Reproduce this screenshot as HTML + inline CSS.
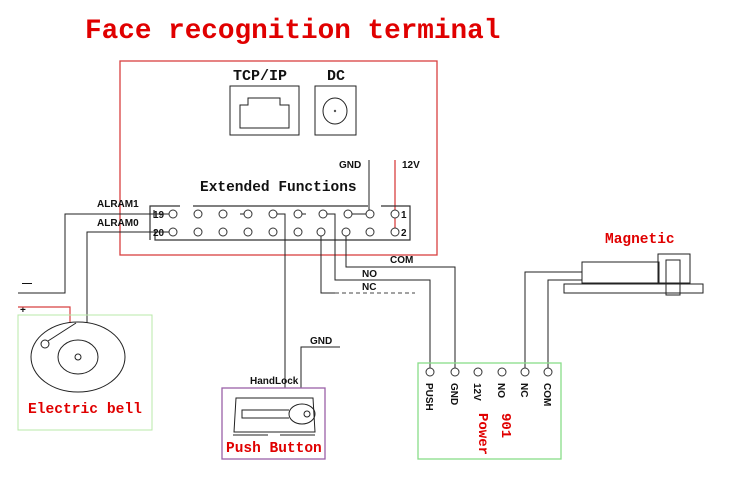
<!DOCTYPE html>
<html><head><meta charset="utf-8"><style>
html,body{margin:0;padding:0;background:#fff;}
svg{display:block;}
.m{font-family:"Liberation Mono",monospace;font-weight:bold;}
.s{font-family:"Liberation Sans",sans-serif;font-weight:bold;font-size:10px;}
</style></head><body>
<svg width="750" height="478" viewBox="0 0 750 478" xmlns="http://www.w3.org/2000/svg">
<rect width="750" height="478" fill="#fff"/>
<text x="85" y="38" class="m" font-size="27.7" fill="#e00000">Face recognition terminal</text>
<rect x="120" y="61" width="317" height="194" fill="none" stroke="#d84040" stroke-width="1.3"/>
<text x="233" y="80" class="m" font-size="15" fill="#111">TCP/IP</text>
<text x="327" y="80" class="m" font-size="15" fill="#111">DC</text>
<rect x="230" y="86" width="69" height="49" fill="none" stroke="#222"/>
<path d="M240 128 V105 H248 V98 H280 V105 H289 V128 Z" fill="none" stroke="#222"/>
<rect x="315" y="86" width="41" height="49" fill="none" stroke="#222"/>
<ellipse cx="335" cy="111" rx="12" ry="13" fill="none" stroke="#222"/>
<circle cx="335" cy="111" r="1.2" fill="#555"/>
<text x="339" y="168" class="s" fill="#111">GND</text>
<text x="402" y="168" class="s" fill="#111">12V</text>
<line x1="369" y1="160" x2="369" y2="214" stroke="#222"/>
<line x1="395" y1="160" x2="395" y2="228" stroke="#d84040" stroke-width="1.3"/>
<text x="200" y="191" class="m" font-size="14.5" fill="#111">Extended Functions</text>
<g stroke="#333" fill="none" stroke-width="1.2">
<path d="M180 206 H150 V240"/><path d="M193 206 H368"/><path d="M381 206 H410 V240 H155 V230"/>
<path d="M154 210 V218"/>
</g>
<g fill="#fff" stroke="#333" stroke-width="1">
<circle cx="173" cy="214" r="4"/><circle cx="198" cy="214" r="4"/><circle cx="223" cy="214" r="4"/><circle cx="248" cy="214" r="4"/><circle cx="273" cy="214" r="4"/><circle cx="298" cy="214" r="4"/><circle cx="323" cy="214" r="4"/><circle cx="348" cy="214" r="4"/><circle cx="370" cy="214" r="4"/><circle cx="395" cy="214" r="4"/>
<circle cx="173" cy="232" r="4"/><circle cx="198" cy="232" r="4"/><circle cx="223" cy="232" r="4"/><circle cx="248" cy="232" r="4"/><circle cx="273" cy="232" r="4"/><circle cx="298" cy="232" r="4"/><circle cx="321" cy="232" r="4"/><circle cx="346" cy="232" r="4"/><circle cx="370" cy="232" r="4"/><circle cx="395" cy="232" r="4"/>
</g>
<text x="153" y="218" class="s" fill="#111">19</text>
<text x="153" y="236" class="s" fill="#111">20</text>
<text x="401" y="218" class="s" fill="#111">1</text>
<text x="401" y="236" class="s" fill="#111">2</text>
<text x="97" y="207" class="s" fill="#111">ALRAM1</text>
<text x="97" y="226" class="s" fill="#111">ALRAM0</text>
<g stroke="#222" fill="none" stroke-width="1">
<path d="M169 214 H65 V293 H18"/>
<path d="M169 232 H87 V323"/>
<path d="M240 214 H244"/><path d="M277 214 H285 V388"/><path d="M302 214 H306"/>
<path d="M327 214 H335 V280 H430 V368"/>
<path d="M346 236 V267 H455 V368"/>
<path d="M321 236 V293 H335"/>
<path d="M352 214 H366"/>
<path d="M301 388 V347 H340"/>
<path d="M525 368 V272 H582"/><path d="M548 368 V280 H582"/>
</g>
<path d="M335 293 H415" stroke="#444" stroke-dasharray="4,3" fill="none"/>
<text x="390" y="263" class="s" fill="#111">COM</text>
<text x="362" y="277" class="s" fill="#111">NO</text>
<text x="362" y="290" class="s" fill="#111">NC</text>
<text x="22" y="286" class="s" fill="#111">—</text>
<text x="20" y="313" class="s" fill="#111">+</text>
<path d="M18 307 H70 V323" stroke="#d84040" fill="none" stroke-width="1.2"/>
<rect x="18" y="315" width="134" height="115" fill="none" stroke="#b8e8a8"/>
<ellipse cx="78" cy="357" rx="47" ry="35" fill="none" stroke="#222"/>
<ellipse cx="78" cy="357" rx="20" ry="17" fill="none" stroke="#222"/>
<circle cx="78" cy="357" r="3" fill="none" stroke="#222"/>
<circle cx="45" cy="344" r="4" fill="none" stroke="#222"/>
<line x1="48" y1="341" x2="76" y2="323" stroke="#222"/>
<text x="28" y="413" class="m" font-size="14.6" fill="#e00000">Electric bell</text>
<text x="310" y="344" class="s" fill="#111">GND</text>
<text x="250" y="384" class="s" fill="#111">HandLock</text>
<rect x="222" y="388" width="103" height="71" fill="none" stroke="#9a60a8" stroke-width="1.3"/>
<path d="M234 432 L236 398 H313 L315 432 Z" fill="none" stroke="#222"/>
<path d="M233 435 H268 M280 435 H315" stroke="#222"/>
<ellipse cx="302" cy="414" rx="13" ry="10" fill="none" stroke="#222"/>
<circle cx="307" cy="414" r="3" fill="none" stroke="#222"/>
<path d="M289 410 H242 V418 H289" fill="none" stroke="#222"/>
<text x="226" y="452" class="m" font-size="14.5" fill="#e00000">Push Button</text>
<rect x="418" y="363" width="143" height="96" fill="none" stroke="#88dd88" stroke-width="1.3"/>
<g fill="#fff" stroke="#333"><circle cx="430" cy="372" r="4"/><circle cx="455" cy="372" r="4"/><circle cx="478" cy="372" r="4"/><circle cx="502" cy="372" r="4"/><circle cx="525" cy="372" r="4"/><circle cx="548" cy="372" r="4"/></g>
<g class="s" fill="#111">
<text transform="translate(426,383) rotate(90)">PUSH</text>
<text transform="translate(451,383) rotate(90)">GND</text>
<text transform="translate(474,383) rotate(90)">12V</text>
<text transform="translate(498,383) rotate(90)">NO</text>
<text transform="translate(521,383) rotate(90)">NC</text>
<text transform="translate(544,383) rotate(90)">COM</text>
</g>
<text transform="translate(502,413) rotate(90)" class="m" font-size="14" fill="#e00000">901</text>
<text transform="translate(479,413) rotate(90)" class="m" font-size="14" fill="#e00000">Power</text>
<text x="605" y="243" class="m" font-size="14.5" fill="#e00000">Magnetic</text>
<g fill="none" stroke="#222" stroke-width="1">
<rect x="582" y="262" width="77" height="21"/>
<rect x="658" y="254" width="32" height="29"/>
<rect x="564" y="284" width="139" height="9"/>
<rect x="666" y="260" width="14" height="35"/>
</g>
</svg>
</body></html>
